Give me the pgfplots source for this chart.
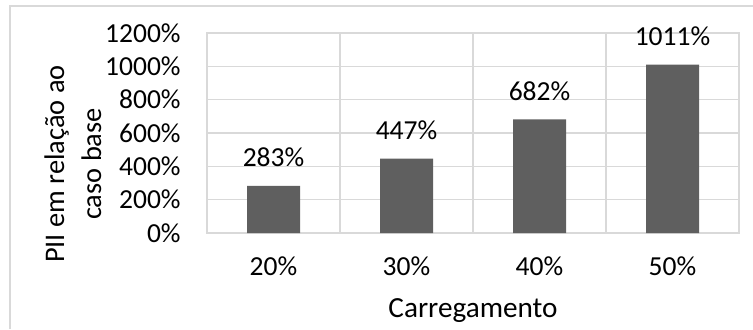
\documentclass[border=0pt]{standalone}
\usepackage{pgfplots}
\pgfplotsset{compat=1.18}
\usepackage{fontspec}
\setmainfont{Carlito}
\definecolor{gridc}{HTML}{D9D9D9}
\definecolor{barc}{HTML}{5F5F5F}
\begin{document}
\begin{tikzpicture}[x=1pt,y=1pt]
\useasboundingbox (0,0) rectangle (376.5,164.5);
\draw[gridc, line width=0.8pt] (5,0) -- (5,161.5) -- (376.5,161.5);
\begin{axis}[
  at={(103.5pt,48pt)}, anchor=south west,
  width=266pt, height=100pt, scale only axis,
  xmin=-0.5, xmax=3.5, ymin=0, ymax=1200,
  xtick={0,1,2,3}, xticklabels={20\%,30\%,40\%,50\%},
  minor xtick={0.5,1.5,2.5},
  ytick={0,200,...,1200},
  yticklabels={0\%,200\%,400\%,600\%,800\%,1000\%,1200\%},
  xminorgrids, ymajorgrids,
  grid style={gridc, line width=0.6pt},
  minor grid style={gridc, line width=0.6pt},
  axis line style={gridc, line width=0.6pt},
  major tick length=0pt, minor tick length=0pt,
  tick label style={font=\fontsize{13.75}{16}\selectfont, inner sep=0pt},
  yticklabel style={anchor=east, xshift=-13pt},
  xticklabel style={anchor=base, yshift=-21pt},
  xlabel={Carregamento},
  xlabel style={at={(axis description cs:0.5,0)}, anchor=base, yshift=-42pt, inner sep=0pt, font=\fontsize{14.6}{17}\selectfont},
  ylabel={PII em relação ao\\caso base},
  ylabel style={at={(axis description cs:-0.2519,0.345)}, anchor=center, align=center, inner sep=0pt, font=\fontsize{14.2}{18.5}\selectfont},
  ybar, bar width=26.5pt,
  /pgf/number format/.cd, 1000 sep={}, assume math mode=true, /pgfplots/.cd,
  nodes near coords={\pgfmathprintnumber{\pgfplotspointmeta}\%},
  nodes near coords style={font=\fontsize{13.75}{16}\selectfont, anchor=base, inner sep=0pt, yshift=9.5pt, text=black},
]
\addplot[fill=barc, draw=none] coordinates {(0,283) (1,447) (2,682) (3,1011)};
\end{axis}
\end{tikzpicture}
\end{document}
